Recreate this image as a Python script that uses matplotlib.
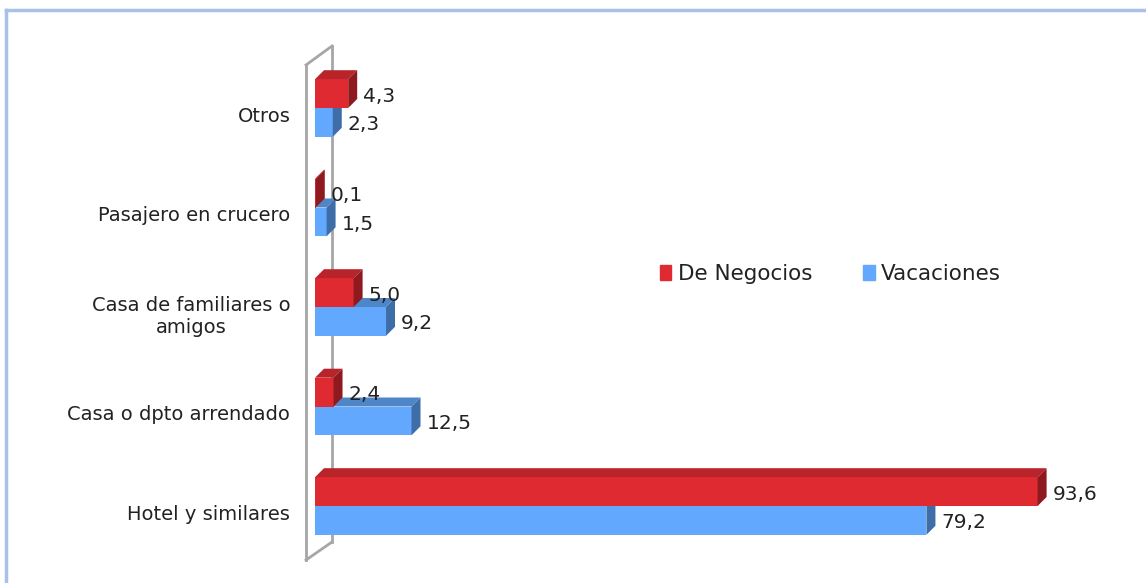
import matplotlib
matplotlib.use("Agg")
import matplotlib.pyplot as plt
from matplotlib.patches import Polygon, Patch
from matplotlib.lines import Line2D

# data (bottom -> top)
categories = ["Hotel y similares", "Casa o dpto arrendado",
              "Casa de familiares o\namigos", "Pasajero en crucero", "Otros"]
negocios = [93.6, 2.4, 5.0, 0.1, 4.3]
vacaciones = [79.2, 12.5, 9.2, 1.5, 2.3]

red_front, red_top, red_side = "#E02A32", "#B9232A", "#8E1A1F"
blue_front, blue_top, blue_side = "#63A8FF", "#4F86C8", "#3E6DA8"
txt = "#222222"

W, H = 1146, 583
fig = plt.figure(figsize=(W / 100, H / 100), dpi=100)

# axes placed in pixel terms: x=0 at px 315, 7.72 px per unit; category step 99.5 px
px_unit = 7.72
step = 99.5
ax_l, ax_r, ax_t, ax_b = 300, 1140, 30, 570
ax = fig.add_axes([ax_l / W, 1 - ax_b / H, (ax_r - ax_l) / W, (ax_b - ax_t) / H])
ax.set_xlim((ax_l - 315) / px_unit, (ax_r - 315) / px_unit)
ax.set_ylim((506 - ax_b) / step, (506 - ax_t) / step)
for s in ax.spines.values():
    s.set_visible(False)
ax.set_xticks([])

h = 28.8 / step          # bar thickness
dx = 9 / px_unit         # 3d depth
dy = 9 / step


def px2x(p):
    return (p - 315) / px_unit


def px2y(p):
    return (506 - p) / step


# back wall frame
wall = "#A6A6A6"
fx, bx = px2x(306), px2x(332)
ax.plot([bx, bx], [px2y(542), px2y(46)], color=wall, lw=2, zorder=1)
ax.plot([fx, fx], [px2y(560), px2y(65)], color=wall, lw=2, zorder=1)
ax.plot([fx, bx], [px2y(65), px2y(46)], color=wall, lw=2, zorder=1)
ax.plot([fx, bx], [px2y(560), px2y(542)], color=wall, lw=2, zorder=1)


def bar3d(y0, v, front, top, side, z):
    ax.barh(y0, v, height=h, left=0, align="edge", color=front, lw=0, zorder=z)
    ax.add_patch(Polygon([(0, y0 + h), (v, y0 + h), (v + dx, y0 + h + dy), (dx, y0 + h + dy)],
                         closed=True, color=top, lw=0, zorder=z))
    ax.add_patch(Polygon([(v, y0), (v + dx, y0 + dy), (v + dx, y0 + h + dy), (v, y0 + h)],
                         closed=True, color=side, lw=0, zorder=z))


def fmt(v):
    return f"{v:.1f}".replace(".", ",")


off = 15 / px_unit
lab_dy = 2.5 / step
for i, (n, v) in enumerate(zip(negocios, vacaciones)):
    bar3d(i - h, v, blue_front, blue_top, blue_side, 2 + i * 0.01)
    bar3d(i, n, red_front, red_top, red_side, 3 + i * 0.01)
    ax.text(v + off, i - h / 2 - lab_dy, fmt(v), ha="left", va="center",
            fontsize=14.5, color=txt, zorder=5)
    ax.text(n + off, i + h / 2 - lab_dy, fmt(n), ha="left", va="center",
            fontsize=14.5, color=txt, zorder=5)

ax.set_yticks([i - 6 / step for i in range(len(categories))])
ax.set_yticklabels(categories, fontsize=14, color=txt, multialignment="center")
ax.tick_params(axis="y", length=0, pad=7)

# legend
handles = [Patch(color=red_front, label="De Negocios"),
           Patch(color=blue_front, label="Vacaciones")]
fig.legend(handles=handles, loc="center left", bbox_to_anchor=(651 / W, 1 - 274 / H),
           ncol=2, frameon=False, fontsize=15.5, handlelength=0.55, handleheight=0.7,
           handletextpad=0.3, columnspacing=2.35, labelcolor=txt, borderaxespad=0)

# outer chart border (top and left visible)
bc = "#A9C0E8"
fig.add_artist(Line2D([6 / W, 1], [1 - 10 / H, 1 - 10 / H], color=bc, lw=2.5))
fig.add_artist(Line2D([6 / W, 6 / W], [0, 1 - 10 / H], color=bc, lw=2.5))

fig.savefig("out.png", dpi=100)
